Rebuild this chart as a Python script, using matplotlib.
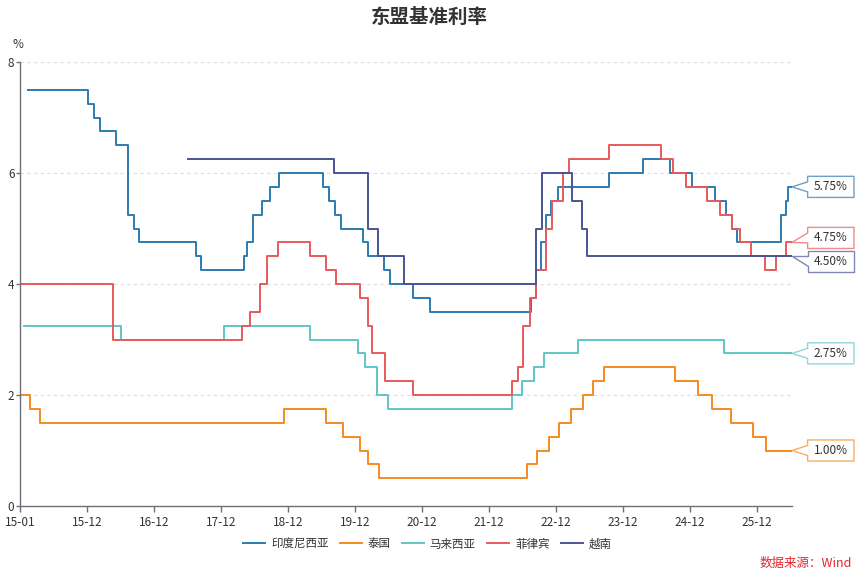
import numpy as np
import matplotlib
matplotlib.use('Agg')
import matplotlib.pyplot as plt
from matplotlib.patches import Polygon

plt.rcParams['font.family'] = ['Noto Sans CJK SC', 'DejaVu Sans']

# x = months counted from 2015-01, y = rate in %
x_end = 138.3
tick_pos = [0, 12, 24, 36, 48, 60, 72, 84, 96, 108, 120, 132]
tick_labels = ['15-01', '15-12', '16-12', '17-12', '18-12', '19-12',
               '20-12', '21-12', '22-12', '23-12', '24-12', '25-12']

idn_x = [1.4, 12.1, 13.3, 14.3, 17.2, 19.3, 20.5, 21.4, 31.5, 32.5, 40.2, 40.6, 41.7,
         43.3, 44.7, 46.4, 54.2, 55.4, 56.4, 57.5, 61.4, 62.4, 65.2, 66.3, 70.4, 73.4,
         91.5, 92.5, 93.4, 94.3, 95.2, 96.4, 105.5, 111.6, 116.4, 120.4, 124.5, 126.4,
         127.6, 128.4, 136.4, 137.3, 137.6]
idn_y = [7.5, 7.25, 7.0, 6.75, 6.5, 5.25, 5.0, 4.75, 4.5, 4.25, 4.5, 4.75, 5.25,
         5.5, 5.75, 6.0, 5.75, 5.5, 5.25, 5.0, 4.75, 4.5, 4.25, 4.0, 3.75, 3.5,
         3.75, 4.25, 4.75, 5.25, 5.5, 5.75, 6.0, 6.25, 6.0, 5.75, 5.5, 5.25,
         5.0, 4.75, 5.25, 5.5, 5.75]

tha_x = [0, 1.8, 3.6, 47.3, 54.9, 57.9, 60.9, 62.4, 64.4, 90.9, 92.7, 94.7, 96.6,
         98.7, 100.8, 102.7, 104.7, 117.3, 121.5, 123.9, 127.3, 131.3, 133.7]
tha_y = [2.0, 1.75, 1.5, 1.75, 1.5, 1.25, 1.0, 0.75, 0.5, 0.75, 1.0, 1.25, 1.5,
         1.75, 2.0, 2.25, 2.5, 2.25, 2.0, 1.75, 1.5, 1.25, 1.0]

mys_x = [0.7, 18.1, 36.5, 51.9, 60.5, 61.8, 63.9, 66.0, 88.2, 90.0, 92.1, 93.9,
         99.9, 126.1]
mys_y = [3.25, 3.0, 3.25, 3.0, 2.75, 2.5, 2.0, 1.75, 2.0, 2.25, 2.5, 2.75,
         3.0, 2.75]

phl_x = [0, 16.7, 39.7, 41.2, 43.0, 44.2, 46.3, 51.9, 54.9, 56.6, 60.9, 62.4, 63.1,
         65.4, 70.4, 88.2, 89.3, 90.1, 91.3, 92.5, 94.3, 95.3, 97.3, 98.4, 105.5,
         114.9, 117.0, 119.4, 123.0, 125.4, 127.6, 129.0, 131.0, 133.4, 135.5, 137.3]
phl_y = [4.0, 3.0, 3.25, 3.5, 4.0, 4.5, 4.75, 4.5, 4.25, 4.0, 3.75, 3.25, 2.75,
         2.25, 2.0, 2.25, 2.5, 3.25, 3.75, 4.25, 5.0, 5.5, 6.0, 6.25, 6.5,
         6.25, 6.0, 5.75, 5.5, 5.25, 5.0, 4.75, 4.5, 4.25, 4.5, 4.75]

vnm_x = [30.1, 56.2, 62.3, 64.2, 68.8, 92.4, 93.6, 98.9, 100.6, 101.5]
vnm_y = [6.25, 6.0, 5.0, 4.5, 4.0, 5.0, 6.0, 5.5, 5.0, 4.5]

names = ['印度尼西亚', '泰国', '马来西亚', '菲律宾', '越南']
colors = ['#2b7bb1', '#f68b1f', '#5fc6c6', '#e85a5c', '#4b5494']
label_y = [5.75, 1.0, 2.75, 4.83, 4.41]   # where the end-boxes sit

series = [(idn_x, idn_y), (tha_x, tha_y), (mys_x, mys_y), (phl_x, phl_y), (vnm_x, vnm_y)]

fig = plt.figure(figsize=(8.65, 5.74), dpi=100)
ax = fig.add_axes([20/865, 1-506/574, 772/865, 444/574])

for (xs, ys), name, c, ly in zip(series, names, colors, label_y):
    xs = list(xs) + [x_end]
    ys = list(ys) + [ys[-1]]
    ax.plot(xs, ys, drawstyle='steps-post', color=c, lw=1.4, label=name)

    # end label box with a pointer
    v = ys[-1]
    bl, br, hh, pw = 141.1, 149.4, 0.19, 0.09
    pts = [(x_end, v), (bl, ly + pw), (bl, ly + hh), (br, ly + hh),
           (br, ly - hh), (bl, ly - hh), (bl, ly - pw)]
    ax.add_patch(Polygon(pts, closed=True, fc='white', ec=c, lw=1.0, alpha=0.7,
                         clip_on=False, joinstyle='round'))
    ax.text((bl + br) / 2, ly, '%.2f%%' % v, ha='center', va='center',
            fontsize=8.5, color='#333333', clip_on=False)

ax.set_xlim(0, x_end)
ax.set_ylim(0, 8)
ax.set_xticks(tick_pos)
ax.set_xticklabels(tick_labels)
ax.set_yticks([0, 2, 4, 6, 8])
ax.tick_params(axis='both', colors='#6e7079', labelcolor='#333333', labelsize=8.5,
               length=4, width=1)
ax.tick_params(axis='y', length=3, pad=1)
ax.grid(axis='y', color='#dddddd', ls=(0, (3, 3)), lw=0.8)
ax.set_axisbelow(True)
for s in ['top', 'right']:
    ax.spines[s].set_visible(False)
for s in ['left', 'bottom']:
    ax.spines[s].set_color('#6e7079')
    ax.spines[s].set_linewidth(1)

fig.text(18/865, 1-45/574, '%', ha='center', va='center', fontsize=8.5, color='#333333')
fig.text(429.5/865, 1-17/574, '东盟基准利率', ha='center', va='center',
         fontsize=14, fontweight='bold', color='#333333')

fig.legend(loc='center', bbox_to_anchor=(427.5/865, 1-544/574), ncol=5, frameon=False,
           fontsize=8.3, handlelength=1.9, handletextpad=0.5, columnspacing=1.0,
           labelcolor='#333333')

fig.text(852/865, 1-563/574, '数据来源：Wind', ha='right', va='center',
         fontsize=9, color='#e3262c')

fig.savefig('out.png', dpi=100)
